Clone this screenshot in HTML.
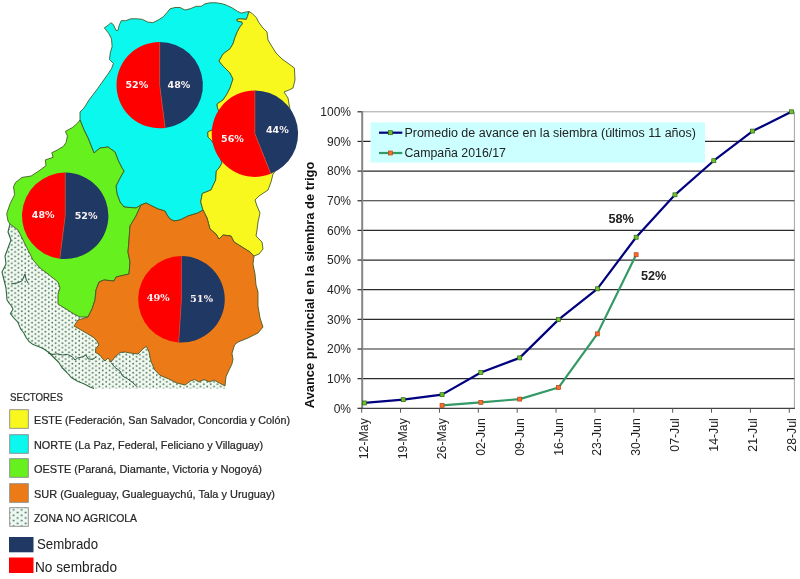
<!DOCTYPE html>
<html><head><meta charset="utf-8"><title>Avance siembra de trigo</title>
<style>html,body{margin:0;padding:0;background:#fff}svg{display:block;filter:blur(0.35px)}</style></head>
<body>
<svg width="800" height="579" viewBox="0 0 800 579">
<defs><pattern id="dots" width="6.74" height="4.56" patternUnits="userSpaceOnUse"><rect width="6.74" height="4.56" fill="#f1fbee"/><circle cx="1.7" cy="1.14" r="0.9" fill="#4c6a66"/><circle cx="5.07" cy="3.42" r="0.9" fill="#4c6a66"/></pattern><pattern id="dots2" width="8" height="5.4" patternUnits="userSpaceOnUse" x="11.6" y="508.5"><rect width="8" height="5.4" fill="#eefaf0"/><circle cx="2" cy="1.35" r="1" fill="#4a6a70"/><circle cx="6" cy="4.05" r="1" fill="#4a6a70"/></pattern></defs>
<rect width="800" height="579" fill="#fff"/>
<polygon points="10,224 8,232 11,240 8,248 5,256 6,264 2,272 4,280 6,288 7,300 9,303 11.4,306 13,309.3 10.4,313.5 13.5,317.6 17.6,321.8 19.2,325.4 20.7,329 23.8,333 26.4,338 29,341.5 33.2,344.6 38.3,346.6 43.5,348.7 48.8,352.5 53.8,357.5 58.8,362.5 61.9,367.5 66.9,372.5 71.3,377.5 77.5,381.3 83.8,383.8 90,386.9 94,388.6 225.6,388.6 225,386 219.4,383 214,380 209.8,382 204,379.5 198.8,382 194.6,379.5 190.5,381 187.8,383 185,385 176.8,383 168.5,378.8 160,375.4 154.8,370 151,361.6 149,352 146.5,346.5 143.8,348 138,354 130,353 125,352 120,352.5 115,357 111,362 108,358 105,361 102.5,358.8 100,355 95.6,352.5 95.6,348.8 98.8,345 97.5,341.9 93.8,337.5 87.5,333.8 81,330 74,326 78,320 88,317 80,317 74,314 66,309 58,304 58,294 60,288 58,282 48,274 40,268 33,260 28,250 23,240 18,230 10,224" fill="url(#dots)"/>
<polyline points="10,224 8,232 11,240 8,248 5,256 6,264 2,272 4,280 6,288 7,300 9,303 11.4,306 13,309.3 10.4,313.5 13.5,317.6 17.6,321.8 19.2,325.4 20.7,329 23.8,333 26.4,338 29,341.5 33.2,344.6 38.3,346.6 43.5,348.7 48.8,352.5 53.8,357.5 58.8,362.5 61.9,367.5 66.9,372.5 71.3,377.5 77.5,381.3 83.8,383.8 90,386.9 94,388.6" fill="none" stroke="#2f6a40" stroke-width="1.1" stroke-linejoin="round"/>
<polygon points="80,120 80,112 84,108 89,100 97.5,88.75 107.6,74.5 111.5,68.7 113.4,63.5 109.5,59.6 110.2,53.1 112.1,46.6 111.5,38.9 108.9,33.7 104.3,27.8 108.2,25.3 110.8,22.7 113.4,24.6 116,30.4 117.9,30.4 119.2,25.3 121.2,20.7 125.7,20.7 130.9,18.8 137.4,18.8 142.5,19.4 147.7,22 152.9,22.7 158.1,20.1 163.3,16.8 167.2,12.3 170,8.8 175,7.5 180,7.5 185,10 190,8.8 196.3,6.3 201.3,6.3 205,3.8 210,2.8 216.3,2.8 222.5,3.8 227.5,5.6 232.5,8.1 237.5,11.3 241.3,13.1 246.3,11.9 249,11.5 247.5,16.3 246.3,19.4 240,18.8 236.9,19.4 237.5,21.3 241.9,21.9 242.5,23.8 240,26.9 237.5,31.3 235,37.5 233,43.8 230,48.8 223,54 219,61 223,66 230,73 233,79 230,88 227,94 223,100 217,104 217.5,108 219.5,112 216,122 214,129 207.8,132 208,137 212,141 215.5,147 220,157 222,163 219,168 216.3,171 215.7,180 211,190 202.3,193.5 200.7,202 203,210 198,213 188,216 180,220 174,221 170,219 167,215 165,211 158,209 152,206 146,203 141,205 136,208 124,207 120,202 117,194 116,186 120,178 124,171 122,168 118,160 115,152 108,147 100,148 94,153 92,148 88,138 84,130 80,120" fill="#0af8ee" stroke="#3f5520" stroke-width="0.85" stroke-linejoin="round"/>
<polygon points="249,11.5 252.5,13.8 256.3,17.5 258.8,22.5 263,28 267,32 268,40 271,45 276,53 282,59 289,64 294.4,68 295,80 293,88 289,90 284,92 288,98 289,104 292,120 292,150 273,174 271,182 268,190 259,196 255,200 257,206 260,213 258,222 257,230 256,236 262,242 263,249 259,254 254,256 250,252 242,247 234,242 231,236 223,235 219,239 216,234 210,229 207,218 203,210 200.7,202 202.3,193.5 211,190 215.7,180 216.3,171 219,168 222,163 220,157 215.5,147 212,141 208,137 207.8,132 214,129 216,122 219.5,112 217.5,108 217,104 223,100 227,94 230,88 233,79 230,73 223,66 219,61 223,54 230,48.8 233,43.8 235,37.5 237.5,31.3 240,26.9 242.5,23.8 241.9,21.9 237.5,21.3 236.9,19.4 240,18.8 246.3,19.4 247.5,16.3" fill="#f8f81e" stroke="#3f5520" stroke-width="0.85" stroke-linejoin="round"/>
<polygon points="80,120 84,130 88,138 92,148 94,153 100,148 108,147 115,152 118,160 122,168 124,171 120,178 116,186 117,194 120,202 124,207 136,208 141,205 136,216 130,226 129,240 128,252 130,262 129,274 116,277 114,281 104,280 99,282 96,290 95,300 92,309 88,317 80,317 74,314 66,309 58,304 58,294 60,288 58,282 48,274 40,268 33,260 28,250 23,240 18,230 10,224 8,221 6.7,213.7 10.1,203.7 14.6,194.7 13.5,186.8 15.5,182.5 22,177.4 31.1,176 38.9,170.9 46,165.7 45.3,159.9 53.1,157.3 51.8,152.7 57,150.2 63.5,146.3 66.1,142.4 67.4,135.9 65.4,131.4 72.5,127.5 77.7,123 80,120" fill="#66f01e" stroke="#3f5520" stroke-width="0.85" stroke-linejoin="round"/>
<polygon points="141,205 146,203 152,206 158,209 165,211 167,215 170,219 174,221 180,220 188,216 198,213 203,210 207,218 210,229 216,234 219,239 223,235 231,236 234,242 242,247 250,252 254,256 253,264 255,274 256,285 258,292 258,306 260,318 263,327 258,333 248,338 238,342 234.5,345 232,353.4 233,359.6 231.8,364.4 229,370 226,376.8 225,386 219.4,383 214,380 209.8,382 204,379.5 198.8,382 194.6,379.5 190.5,381 187.8,383 185,385 176.8,383 168.5,378.8 160,375.4 154.8,370 151,361.6 149,352 146.5,346.5 143.8,348 138,354 130,353 125,352 120,352.5 115,357 111,362 108,358 105,361 102.5,358.8 100,355 95.6,352.5 95.6,348.8 98.8,345 97.5,341.9 93.8,337.5 87.5,333.8 81,330 74,326 78,320 88,317 92,309 95,300 96,290 99,282 104,280 114,281 116,277 129,274 130,262 128,252 129,240 130,226 136,216" fill="#ec7a16" stroke="#3f5520" stroke-width="0.85" stroke-linejoin="round"/>
<polyline points="48,353 52.5,354.4 57.5,353.8 62.5,355 67.5,354.4 72.5,356.9 75,360 77.5,358 82.5,356.9 86,355 88,358.8 92.5,359.4 96,357" fill="none" stroke="#2a5a3c" stroke-width="1" stroke-linejoin="round"/>
<polyline points="111,362.5 115,367.5 120,371 122.5,376 127.5,378.8 132.5,382.5 137.5,387" fill="none" stroke="#2a5a3c" stroke-width="1" stroke-linejoin="round"/>
<polyline points="11,284 17,283 22,281 25,274 26,279 28,283" fill="none" stroke="#2a5a3c" stroke-width="1" stroke-linejoin="round"/>
<path d="M159.7,85.1 L159.7,41.9 A43.2,43.2 0 0 1 165.11,127.96 Z" fill="#1f3864"/><path d="M159.7,85.1 L165.11,127.96 A43.2,43.2 0 1 1 159.7,41.9 Z" fill="#ff0000"/><path d="M159.7,41.9 L159.7,85.1 L165.11,127.96" fill="none" stroke="#c0504d" stroke-width="0.7"/>
<path d="M254.9,133.7 L254.9,90.5 A43.2,43.2 0 0 1 270.80,173.87 Z" fill="#1f3864"/><path d="M254.9,133.7 L270.80,173.87 A43.2,43.2 0 1 1 254.9,90.5 Z" fill="#ff0000"/><path d="M254.9,90.5 L254.9,133.7 L270.80,173.87" fill="none" stroke="#c0504d" stroke-width="0.7"/>
<path d="M65.2,215.8 L65.2,172.6 A43.2,43.2 0 1 1 59.79,258.66 Z" fill="#1f3864"/><path d="M65.2,215.8 L59.79,258.66 A43.2,43.2 0 0 1 65.2,172.6 Z" fill="#ff0000"/><path d="M65.2,172.6 L65.2,215.8 L59.79,258.66" fill="none" stroke="#c0504d" stroke-width="0.7"/>
<path d="M181.4,299.3 L181.4,256 A43.3,43.3 0 1 1 178.68,342.51 Z" fill="#1f3864"/><path d="M181.4,299.3 L178.68,342.51 A43.3,43.3 0 0 1 181.4,256 Z" fill="#ff0000"/><path d="M181.4,256 L181.4,299.3 L178.68,342.51" fill="none" stroke="#c0504d" stroke-width="0.7"/>
<text x="125.40" y="88.13" font-family='"DejaVu Sans", sans-serif' font-weight="bold" font-size="8.6" fill="#fbf3f3" textLength="22.8" lengthAdjust="spacingAndGlyphs">52%</text>
<text x="167.60" y="88.13" font-family='"DejaVu Sans", sans-serif' font-weight="bold" font-size="8.6" fill="#fbf3f3" textLength="22.8" lengthAdjust="spacingAndGlyphs">48%</text>
<text x="221.00" y="141.73" font-family='"DejaVu Sans", sans-serif' font-weight="bold" font-size="8.6" fill="#fbf3f3" textLength="22.8" lengthAdjust="spacingAndGlyphs">56%</text>
<text x="265.90" y="132.63" font-family='"DejaVu Sans", sans-serif' font-weight="bold" font-size="8.6" fill="#fbf3f3" textLength="22.8" lengthAdjust="spacingAndGlyphs">44%</text>
<text x="31.80" y="217.63" font-family='"DejaVu Sans", sans-serif' font-weight="bold" font-size="8.6" fill="#fbf3f3" textLength="22.8" lengthAdjust="spacingAndGlyphs">48%</text>
<text x="74.70" y="219.03" font-family='"DejaVu Sans", sans-serif' font-weight="bold" font-size="8.6" fill="#fbf3f3" textLength="22.8" lengthAdjust="spacingAndGlyphs">52%</text>
<text x="146.70" y="301.01" font-family='"DejaVu Serif", serif' font-weight="bold" font-size="8.8" fill="#fbf3f3" textLength="23" lengthAdjust="spacingAndGlyphs">49%</text>
<text x="190.00" y="302.41" font-family='"DejaVu Serif", serif' font-weight="bold" font-size="8.8" fill="#fbf3f3" textLength="23" lengthAdjust="spacingAndGlyphs">51%</text>
<text x="10" y="400.5" font-family='"Liberation Sans", sans-serif' font-size="11.4" fill="#262626" stroke="#262626" stroke-width="0.22" textLength="53" lengthAdjust="spacingAndGlyphs">SECTORES</text>
<rect x="9.7" y="409.7" width="18.6" height="18.6" fill="#f8f81e" stroke="#8a8a8a" stroke-width="0.9"/>
<text x="34" y="424.1" font-family='"Liberation Sans", sans-serif' font-size="11.3" fill="#262626" stroke="#262626" stroke-width="0.22" textLength="256" lengthAdjust="spacingAndGlyphs">ESTE (Federación, San Salvador, Concordia y Colón)</text>
<rect x="9.7" y="434.7" width="18.6" height="18.6" fill="#0af8ee" stroke="#8a8a8a" stroke-width="0.9"/>
<text x="34" y="449.1" font-family='"Liberation Sans", sans-serif' font-size="11.3" fill="#262626" stroke="#262626" stroke-width="0.22" textLength="229" lengthAdjust="spacingAndGlyphs">NORTE (La Paz, Federal, Feliciano y Villaguay)</text>
<rect x="9.7" y="458.7" width="18.6" height="18.6" fill="#66f01e" stroke="#8a8a8a" stroke-width="0.9"/>
<text x="34" y="473.1" font-family='"Liberation Sans", sans-serif' font-size="11.3" fill="#262626" stroke="#262626" stroke-width="0.22" textLength="228" lengthAdjust="spacingAndGlyphs">OESTE (Paraná, Diamante, Victoria y Nogoyá)</text>
<rect x="9.7" y="483.7" width="18.6" height="18.6" fill="#ec7a16" stroke="#8a8a8a" stroke-width="0.9"/>
<text x="34" y="498.1" font-family='"Liberation Sans", sans-serif' font-size="11.3" fill="#262626" stroke="#262626" stroke-width="0.22" textLength="241" lengthAdjust="spacingAndGlyphs">SUR (Gualeguay, Gualeguaychú, Tala y Uruguay)</text>
<rect x="9.7" y="507.7" width="18.6" height="18.6" fill="url(#dots2)" stroke="#8a8a8a" stroke-width="0.9"/>
<text x="34" y="522.1" font-family='"Liberation Sans", sans-serif' font-size="11.3" fill="#262626" stroke="#262626" stroke-width="0.22" textLength="103" lengthAdjust="spacingAndGlyphs">ZONA NO AGRICOLA</text>
<rect x="9" y="537" width="24.5" height="15.3" fill="#1f3864"/>
<rect x="9" y="557.5" width="24.5" height="15.5" fill="#ff0000"/>
<text x="37" y="548.5" font-family='"Liberation Sans", sans-serif' font-size="14" fill="#222" textLength="61" lengthAdjust="spacingAndGlyphs">Sembrado</text>
<text x="35" y="571.5" font-family='"Liberation Sans", sans-serif' font-size="14" fill="#222" textLength="82" lengthAdjust="spacingAndGlyphs">No sembrado</text>
<path d="M361.7,111.8 H794.4 V408.3" fill="none" stroke="#999" stroke-width="0.9"/>
<line x1="361.7" x2="794.4" y1="378.65" y2="378.65" stroke="#2a2a2a" stroke-width="1.2"/>
<line x1="361.7" x2="794.4" y1="349.00" y2="349.00" stroke="#2a2a2a" stroke-width="1.2"/>
<line x1="361.7" x2="794.4" y1="319.35" y2="319.35" stroke="#2a2a2a" stroke-width="1.2"/>
<line x1="361.7" x2="794.4" y1="289.70" y2="289.70" stroke="#2a2a2a" stroke-width="1.2"/>
<line x1="361.7" x2="794.4" y1="260.05" y2="260.05" stroke="#2a2a2a" stroke-width="1.2"/>
<line x1="361.7" x2="794.4" y1="230.40" y2="230.40" stroke="#2a2a2a" stroke-width="1.2"/>
<line x1="361.7" x2="794.4" y1="200.75" y2="200.75" stroke="#2a2a2a" stroke-width="1.2"/>
<line x1="361.7" x2="794.4" y1="171.10" y2="171.10" stroke="#2a2a2a" stroke-width="1.2"/>
<line x1="361.7" x2="794.4" y1="141.45" y2="141.45" stroke="#2a2a2a" stroke-width="1.2"/>
<rect x="370.5" y="122.4" width="334.5" height="40.2" fill="#ccffff"/>
<line x1="362.2" x2="362.2" y1="111.3" y2="408.3" stroke="#868686" stroke-width="2"/>
<line x1="361.2" x2="794.9" y1="408.40000000000003" y2="408.40000000000003" stroke="#444" stroke-width="1.3"/>
<line x1="357.5" x2="361.7" y1="408.30" y2="408.30" stroke="#2a2a2a" stroke-width="1.2"/>
<text x="351" y="412.60" text-anchor="end" font-family='"Liberation Sans", sans-serif' font-size="12" fill="#222">0%</text>
<line x1="357.5" x2="361.7" y1="378.65" y2="378.65" stroke="#2a2a2a" stroke-width="1.2"/>
<text x="351" y="382.95" text-anchor="end" font-family='"Liberation Sans", sans-serif' font-size="12" fill="#222">10%</text>
<line x1="357.5" x2="361.7" y1="349.00" y2="349.00" stroke="#2a2a2a" stroke-width="1.2"/>
<text x="351" y="353.30" text-anchor="end" font-family='"Liberation Sans", sans-serif' font-size="12" fill="#222">20%</text>
<line x1="357.5" x2="361.7" y1="319.35" y2="319.35" stroke="#2a2a2a" stroke-width="1.2"/>
<text x="351" y="323.65" text-anchor="end" font-family='"Liberation Sans", sans-serif' font-size="12" fill="#222">30%</text>
<line x1="357.5" x2="361.7" y1="289.70" y2="289.70" stroke="#2a2a2a" stroke-width="1.2"/>
<text x="351" y="294.00" text-anchor="end" font-family='"Liberation Sans", sans-serif' font-size="12" fill="#222">40%</text>
<line x1="357.5" x2="361.7" y1="260.05" y2="260.05" stroke="#2a2a2a" stroke-width="1.2"/>
<text x="351" y="264.35" text-anchor="end" font-family='"Liberation Sans", sans-serif' font-size="12" fill="#222">50%</text>
<line x1="357.5" x2="361.7" y1="230.40" y2="230.40" stroke="#2a2a2a" stroke-width="1.2"/>
<text x="351" y="234.70" text-anchor="end" font-family='"Liberation Sans", sans-serif' font-size="12" fill="#222">60%</text>
<line x1="357.5" x2="361.7" y1="200.75" y2="200.75" stroke="#2a2a2a" stroke-width="1.2"/>
<text x="351" y="205.05" text-anchor="end" font-family='"Liberation Sans", sans-serif' font-size="12" fill="#222">70%</text>
<line x1="357.5" x2="361.7" y1="171.10" y2="171.10" stroke="#2a2a2a" stroke-width="1.2"/>
<text x="351" y="175.40" text-anchor="end" font-family='"Liberation Sans", sans-serif' font-size="12" fill="#222">80%</text>
<line x1="357.5" x2="361.7" y1="141.45" y2="141.45" stroke="#2a2a2a" stroke-width="1.2"/>
<text x="351" y="145.75" text-anchor="end" font-family='"Liberation Sans", sans-serif' font-size="12" fill="#222">90%</text>
<line x1="357.5" x2="361.7" y1="111.80" y2="111.80" stroke="#2a2a2a" stroke-width="1.2"/>
<text x="351" y="116.10" text-anchor="end" font-family='"Liberation Sans", sans-serif' font-size="12" fill="#222">100%</text>
<line x1="361.70" x2="361.70" y1="408.3" y2="412.7" stroke="#555" stroke-width="1"/>
<text transform="translate(368.20,418.2) rotate(-90)" text-anchor="end" font-family='"Liberation Sans", sans-serif' font-size="12.3" fill="#222">12-May</text>
<line x1="400.57" x2="400.57" y1="408.3" y2="412.7" stroke="#555" stroke-width="1"/>
<text transform="translate(407.07,418.2) rotate(-90)" text-anchor="end" font-family='"Liberation Sans", sans-serif' font-size="12.3" fill="#222">19-May</text>
<line x1="439.44" x2="439.44" y1="408.3" y2="412.7" stroke="#555" stroke-width="1"/>
<text transform="translate(445.94,418.2) rotate(-90)" text-anchor="end" font-family='"Liberation Sans", sans-serif' font-size="12.3" fill="#222">26-May</text>
<line x1="478.31" x2="478.31" y1="408.3" y2="412.7" stroke="#555" stroke-width="1"/>
<text transform="translate(484.81,418.2) rotate(-90)" text-anchor="end" font-family='"Liberation Sans", sans-serif' font-size="12.3" fill="#222">02-Jun</text>
<line x1="517.18" x2="517.18" y1="408.3" y2="412.7" stroke="#555" stroke-width="1"/>
<text transform="translate(523.68,418.2) rotate(-90)" text-anchor="end" font-family='"Liberation Sans", sans-serif' font-size="12.3" fill="#222">09-Jun</text>
<line x1="556.05" x2="556.05" y1="408.3" y2="412.7" stroke="#555" stroke-width="1"/>
<text transform="translate(562.55,418.2) rotate(-90)" text-anchor="end" font-family='"Liberation Sans", sans-serif' font-size="12.3" fill="#222">16-Jun</text>
<line x1="594.92" x2="594.92" y1="408.3" y2="412.7" stroke="#555" stroke-width="1"/>
<text transform="translate(601.42,418.2) rotate(-90)" text-anchor="end" font-family='"Liberation Sans", sans-serif' font-size="12.3" fill="#222">23-Jun</text>
<line x1="633.79" x2="633.79" y1="408.3" y2="412.7" stroke="#555" stroke-width="1"/>
<text transform="translate(640.29,418.2) rotate(-90)" text-anchor="end" font-family='"Liberation Sans", sans-serif' font-size="12.3" fill="#222">30-Jun</text>
<line x1="672.66" x2="672.66" y1="408.3" y2="412.7" stroke="#555" stroke-width="1"/>
<text transform="translate(679.16,418.2) rotate(-90)" text-anchor="end" font-family='"Liberation Sans", sans-serif' font-size="12.3" fill="#222">07-Jul</text>
<line x1="711.53" x2="711.53" y1="408.3" y2="412.7" stroke="#555" stroke-width="1"/>
<text transform="translate(718.03,418.2) rotate(-90)" text-anchor="end" font-family='"Liberation Sans", sans-serif' font-size="12.3" fill="#222">14-Jul</text>
<line x1="750.40" x2="750.40" y1="408.3" y2="412.7" stroke="#555" stroke-width="1"/>
<text transform="translate(756.90,418.2) rotate(-90)" text-anchor="end" font-family='"Liberation Sans", sans-serif' font-size="12.3" fill="#222">21-Jul</text>
<line x1="789.27" x2="789.27" y1="408.3" y2="412.7" stroke="#555" stroke-width="1"/>
<text transform="translate(795.77,418.2) rotate(-90)" text-anchor="end" font-family='"Liberation Sans", sans-serif' font-size="12.3" fill="#222">28-Jul</text>
<text transform="translate(314.4,284.9) rotate(-90)" text-anchor="middle" font-family='"Liberation Sans", sans-serif' font-weight="bold" font-size="12" fill="#111" textLength="246.5" lengthAdjust="spacingAndGlyphs">Avance provincial en la siembra de trigo</text>
<polyline points="364.4,402.963 403.22,399.702 442.04,394.661 480.86,372.423 519.68,357.895 558.5,319.647 597.32,288.811 636.14,237.22 674.96,194.82 713.78,160.723 752.6,131.072 791.42,111.8" fill="none" stroke="#000080" stroke-width="2.2" stroke-linejoin="round"/>
<polyline points="442.04,405.335 480.86,402.37 519.68,399.108 558.5,387.545 597.32,333.879 636.14,254.713" fill="none" stroke="#339966" stroke-width="2.2" stroke-linejoin="round"/>
<rect x="362.40" y="400.96" width="4" height="4" fill="#6cc62a" stroke="#2f5f14" stroke-width="0.7"/>
<rect x="401.22" y="397.70" width="4" height="4" fill="#6cc62a" stroke="#2f5f14" stroke-width="0.7"/>
<rect x="440.04" y="392.66" width="4" height="4" fill="#6cc62a" stroke="#2f5f14" stroke-width="0.7"/>
<rect x="478.86" y="370.42" width="4" height="4" fill="#6cc62a" stroke="#2f5f14" stroke-width="0.7"/>
<rect x="517.68" y="355.89" width="4" height="4" fill="#6cc62a" stroke="#2f5f14" stroke-width="0.7"/>
<rect x="556.50" y="317.65" width="4" height="4" fill="#6cc62a" stroke="#2f5f14" stroke-width="0.7"/>
<rect x="595.32" y="286.81" width="4" height="4" fill="#6cc62a" stroke="#2f5f14" stroke-width="0.7"/>
<rect x="634.14" y="235.22" width="4" height="4" fill="#6cc62a" stroke="#2f5f14" stroke-width="0.7"/>
<rect x="672.96" y="192.82" width="4" height="4" fill="#6cc62a" stroke="#2f5f14" stroke-width="0.7"/>
<rect x="711.78" y="158.72" width="4" height="4" fill="#6cc62a" stroke="#2f5f14" stroke-width="0.7"/>
<rect x="750.60" y="129.07" width="4" height="4" fill="#6cc62a" stroke="#2f5f14" stroke-width="0.7"/>
<rect x="789.42" y="109.80" width="4" height="4" fill="#6cc62a" stroke="#2f5f14" stroke-width="0.7"/>
<rect x="440.04" y="403.34" width="4" height="4" fill="#ff6a2b" stroke="#a8481a" stroke-width="0.7"/>
<rect x="478.86" y="400.37" width="4" height="4" fill="#ff6a2b" stroke="#a8481a" stroke-width="0.7"/>
<rect x="517.68" y="397.11" width="4" height="4" fill="#ff6a2b" stroke="#a8481a" stroke-width="0.7"/>
<rect x="556.50" y="385.55" width="4" height="4" fill="#ff6a2b" stroke="#a8481a" stroke-width="0.7"/>
<rect x="595.32" y="331.88" width="4" height="4" fill="#ff6a2b" stroke="#a8481a" stroke-width="0.7"/>
<rect x="634.14" y="252.71" width="4" height="4" fill="#ff6a2b" stroke="#a8481a" stroke-width="0.7"/>
<line x1="379" x2="402.3" y1="132.7" y2="132.7" stroke="#000080" stroke-width="2.2"/>
<rect x="388.4" y="130.7" width="4" height="4" fill="#6cc62a" stroke="#2f5f14" stroke-width="0.7"/>
<line x1="379" x2="402.3" y1="153" y2="153" stroke="#339966" stroke-width="2.2"/>
<rect x="388.4" y="151" width="4" height="4" fill="#ff6a2b" stroke="#a8481a" stroke-width="0.7"/>
<text x="404.4" y="137" font-family='"Liberation Sans", sans-serif' font-size="12" fill="#222" textLength="291.5" lengthAdjust="spacingAndGlyphs">Promedio de avance en la siembra (últimos 11 años)</text>
<text x="404.4" y="157.3" font-family='"Liberation Sans", sans-serif' font-size="12" fill="#222" textLength="101.5" lengthAdjust="spacingAndGlyphs">Campaña 2016/17</text>
<text x="621.2" y="222.9" text-anchor="middle" font-family='"Liberation Sans", sans-serif' font-weight="bold" font-size="12.7" fill="#222">58%</text>
<text x="653.6" y="279.8" text-anchor="middle" font-family='"Liberation Sans", sans-serif' font-weight="bold" font-size="12.7" fill="#222">52%</text>
</svg>
</body></html>
